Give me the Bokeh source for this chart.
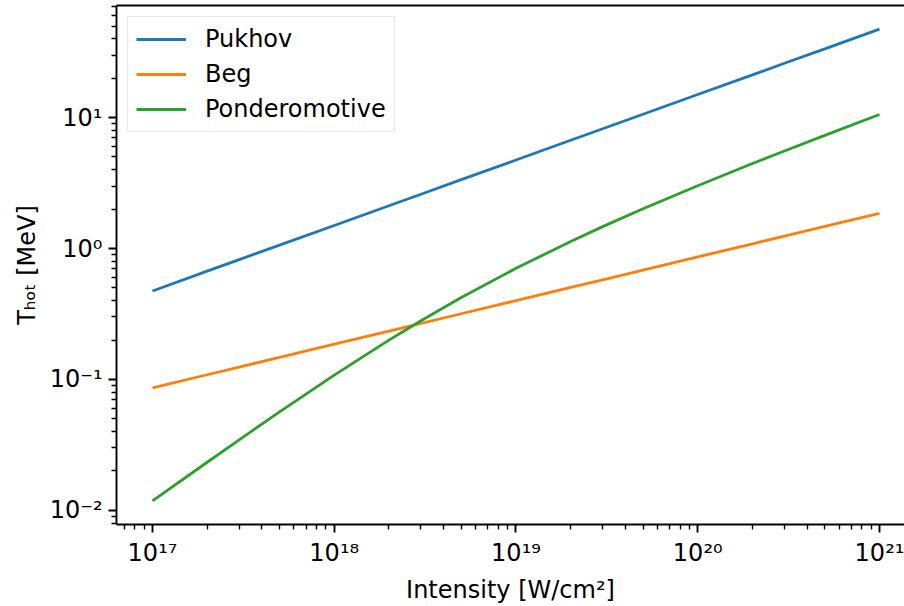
from bokeh.plotting import figure
from bokeh.models import Range1d, FixedTicker, CustomJSTickFormatter, LogAxis, Legend, LegendItem
from bokeh.embed import file_html
from bokeh.resources import INLINE

# Data
intensity = [1e17, 2e17, 3e17, 5e17, 1e18, 2e18, 3e18, 5e18, 1e19, 2e19, 3e19, 5e19,
             1e20, 2e20, 3e20, 5e20, 1e21]
pukhov = [0.474, 0.671, 0.822, 1.061, 1.5, 2.121, 2.598, 3.354, 4.74, 6.71, 8.22, 10.61,
          15.0, 21.2, 26.0, 33.5, 47.4]
beg = [0.0862, 0.1086, 0.1243, 0.1474, 0.1857, 0.2339, 0.2678, 0.3175, 0.400, 0.504, 0.577,
       0.684, 0.862, 1.086, 1.243, 1.474, 1.857]
ponderomotive = [0.0118, 0.0233, 0.0346, 0.0566, 0.1079, 0.1997, 0.2809, 0.4223, 0.706, 1.132,
                 1.469, 2.011, 3.019, 4.455, 5.560, 7.316, 10.546]

x_decades = [17, 18, 19, 20, 21]
y_decades = [-2, -1, 0, 1]
series_names = ["Pukhov", "Beg", "Ponderomotive"]
colors = ["#1f77b4", "#ff7f0e", "#2ca02c"]

x_major = [10.0 ** d for d in x_decades]
x_minor = [k * 10.0 ** d for d in range(16, 22) for k in range(2, 10)]
y_major = [10.0 ** d for d in y_decades]
y_minor = [k * 10.0 ** d for d in range(-3, 2) for k in range(2, 10)]

p = figure(width=904, height=606, x_axis_type="log", y_axis_type="log",
           x_range=Range1d(10 ** 16.802, 10 ** 21.1376),
           y_range=Range1d(10 ** -2.108, 10 ** 1.856),
           output_backend="svg", toolbar_location=None,
           min_border_left=116, min_border_right=0, min_border_top=5, min_border_bottom=81)
p.outline_line_color = None
p.grid.visible = False
p.background_fill_color = "white"
p.border_fill_color = "white"

fmt = CustomJSTickFormatter(code="""
const sup = {'-':'\u207b','0':'\u2070','1':'\u00b9','2':'\u00b2','3':'\u00b3','4':'\u2074',
             '5':'\u2075','6':'\u2076','7':'\u2077','8':'\u2078','9':'\u2079'};
const e = Math.round(Math.log10(tick));
return '10' + String(e).split('').map(c => sup[c]).join('');
""")

p.xaxis.ticker = FixedTicker(ticks=x_major, minor_ticks=x_minor)
p.yaxis.ticker = FixedTicker(ticks=y_major, minor_ticks=y_minor)
for ax in (p.xaxis[0], p.yaxis[0]):
    ax.formatter = fmt
    ax.axis_line_width = 1.9
    ax.axis_line_color = "black"
    ax.major_tick_line_width = 1.9
    ax.major_tick_line_color = "black"
    ax.minor_tick_line_width = 1.4
    ax.minor_tick_line_color = "black"
    ax.major_tick_out = 8
    ax.major_tick_in = 0
    ax.minor_tick_out = 5
    ax.minor_tick_in = 0
    ax.major_label_text_font = "DejaVu Sans"
    ax.major_label_text_font_size = "24px"
    ax.major_label_text_color = "black"
    ax.major_label_standoff = 6
    ax.axis_label_text_font = "DejaVu Sans"
    ax.axis_label_text_font_size = "24px"
    ax.axis_label_text_font_style = "normal"
    ax.axis_label_text_color = "black"
    ax.axis_label_standoff = 6

p.xaxis.axis_label = "Intensity [W/cm\u00b2]"
p.yaxis.axis_label = "T\u2095\u2092\u209c [MeV]"

top = LogAxis(ticker=FixedTicker(ticks=[]), axis_line_width=1.9, axis_line_color="black",
              major_tick_out=0, minor_tick_out=0, major_label_text_font_size="0px")
p.add_layout(top, "above")

series = [pukhov, beg, ponderomotive]
items = []
for name, ys, c in zip(series_names, series, colors):
    r = p.line(intensity, ys, line_color=c, line_width=2.8)
    items.append(LegendItem(label=name, renderers=[r]))

legend = Legend(items=items, location="top_left")
legend.label_text_font = "DejaVu Sans"
legend.label_text_font_size = "24px"
legend.label_text_color = "black"
legend.glyph_width = 50
legend.glyph_height = 24
legend.label_height = 24
legend.label_standoff = 19
legend.spacing = 7
legend.padding = 8
legend.margin = 11
legend.border_line_color = "#d4d4d4"
legend.border_line_width = 1.5
legend.background_fill_alpha = 0.8
p.add_layout(legend)

open("out.html", "w").write(file_html(p, INLINE))
